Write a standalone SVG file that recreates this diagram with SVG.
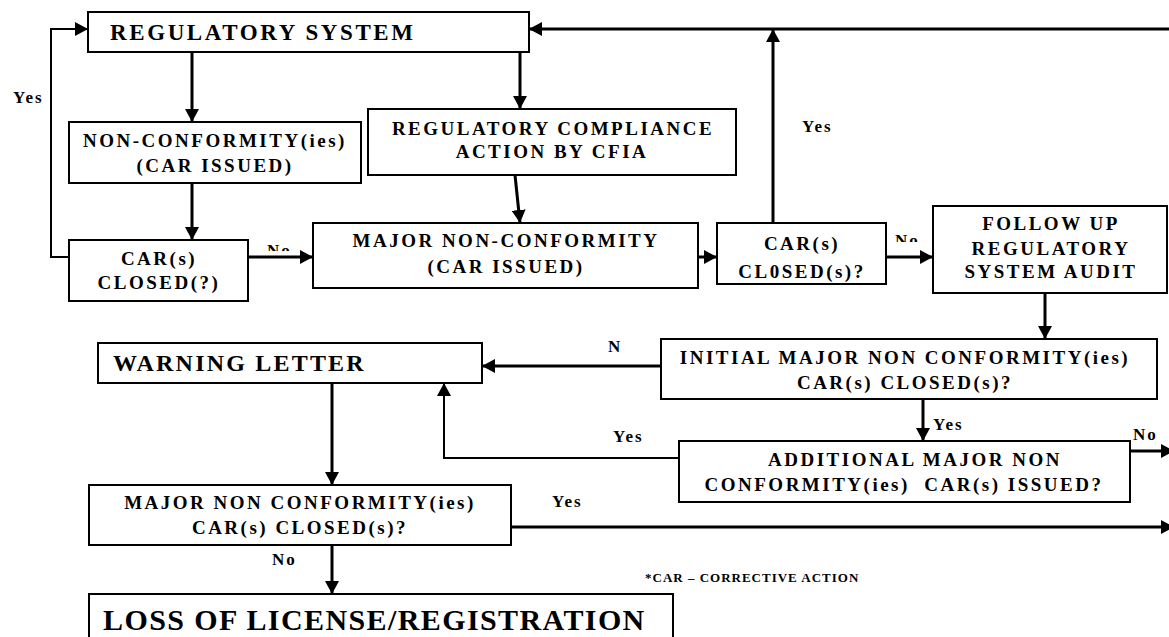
<svg xmlns="http://www.w3.org/2000/svg" width="1169" height="637" viewBox="0 0 1169 637">
<style>
  .box { fill: #fff; stroke: #000; stroke-width: 2; }
  .t { font-family: "Liberation Serif", "Times New Roman", serif; font-weight: bold; fill: #000; }
  .bt { font-size: 19px; letter-spacing: 2.5px; text-anchor: middle; }
  .lbl { font-size: 17px; letter-spacing: 2px; }
  .c { fill: none; stroke: #000; stroke-width: 3; marker-end: url(#ah); }
  .cn { fill: none; stroke: #000; stroke-width: 3; }
  .thin { stroke-width: 2; }
</style>
<defs>
  <marker id="ah" markerUnits="userSpaceOnUse" markerWidth="14" markerHeight="14" refX="13" refY="7" orient="auto">
    <path d="M0,0 L13,7 L0,14 z" fill="#000"/>
  </marker>
  <clipPath id="clipNo1"><rect x="260" y="230" width="40" height="21"/></clipPath>
  <clipPath id="clipNo2"><rect x="890" y="220" width="40" height="22"/></clipPath>
</defs>
<rect width="1169" height="637" fill="#fff"/>

<g id="connectors">
  <path class="c" d="M192,52 V122"/>
  <path class="c" d="M520,52 V109"/>
  <path class="c" d="M192,183 V240"/>
  <path class="c thin" d="M69,257 H51 V29 H88"/>
  <path class="c" d="M248,257 H313"/>
  <path class="c" d="M515,175 L520,223"/>
  <path class="c" d="M698,257 H717"/>
  <path class="c" d="M773,223 V29"/>
  <path class="c" d="M1169,29 H529"/>
  <path class="c" d="M886,257 H933"/>
  <path class="c" d="M1045,293 V339"/>
  <path class="c" d="M661,366 H482"/>
  <path class="c" d="M923,399 V441"/>
  <path class="c" d="M1130,451 H1174"/>
  <path class="c thin" d="M679,458 H444 V383"/>
  <path class="c" d="M332,383 V485"/>
  <path class="c" d="M511,527 H1174"/>
  <path class="c" d="M332,545 V594"/>
</g>

<g id="labels">
  <text class="t lbl" x="13" y="103">Yes</text>
  <text class="t lbl" x="267" y="256" clip-path="url(#clipNo1)">No</text>
  <text class="t lbl" x="802" y="132">Yes</text>
  <text class="t lbl" x="895" y="246" clip-path="url(#clipNo2)">No</text>
  <text class="t lbl" x="608" y="352">N</text>
  <text class="t lbl" x="933" y="430">Yes</text>
  <text class="t lbl" x="613" y="442">Yes</text>
  <text class="t lbl" x="1133" y="440">No</text>
  <text class="t lbl" x="552" y="507">Yes</text>
  <text class="t lbl" x="272" y="565">No</text>
  <text class="t" x="645" y="582" font-size="13" letter-spacing="1">*CAR – CORRECTIVE ACTION</text>
</g>

<g id="regulatory-system">
  <rect class="box" x="88" y="12" width="441" height="40"/>
  <text class="t" x="110" y="40" font-size="23" letter-spacing="2.6">REGULATORY SYSTEM</text>
</g>
<g id="non-conformity">
  <rect class="box" x="69" y="122" width="292" height="61"/>
  <text class="t bt" x="215" y="147">NON-CONFORMITY(ies)</text>
  <text class="t bt" x="215" y="172">(CAR ISSUED)</text>
</g>
<g id="compliance-action">
  <rect class="box" x="368" y="109" width="368" height="66"/>
  <text class="t bt" x="553" y="135">REGULATORY COMPLIANCE</text>
  <text class="t bt" x="552" y="158">ACTION BY CFIA</text>
</g>
<g id="car-closed-1">
  <rect class="box" x="69" y="240" width="179" height="61"/>
  <text class="t bt" x="159" y="265">CAR(s)</text>
  <text class="t bt" x="159" y="289">CLOSED(?)</text>
</g>
<g id="major-non-conformity">
  <rect class="box" x="313" y="223" width="385" height="65"/>
  <text class="t bt" x="506" y="247">MAJOR NON-CONFORMITY</text>
  <text class="t bt" x="506" y="273">(CAR ISSUED)</text>
</g>
<g id="car-closed-2">
  <rect class="box" x="717" y="223" width="169" height="61"/>
  <text class="t bt" x="802" y="250">CAR(s)</text>
  <text class="t bt" x="802" y="278">CL0SED(s)?</text>
</g>
<g id="follow-up-audit">
  <rect class="box" x="933" y="206" width="234" height="87"/>
  <text class="t bt" x="1051" y="230">FOLLOW UP</text>
  <text class="t bt" x="1051" y="255">REGULATORY</text>
  <text class="t bt" x="1051" y="278">SYSTEM AUDIT</text>
</g>
<g id="initial-major">
  <rect class="box" x="661" y="339" width="496" height="60"/>
  <text class="t bt" x="905" y="364">INITIAL MAJOR NON CONFORMITY(ies)</text>
  <text class="t bt" x="905" y="389">CAR(s) CLOSED(s)?</text>
</g>
<g id="warning-letter">
  <rect class="box" x="98" y="343" width="384" height="40"/>
  <text class="t" x="113" y="371" font-size="24" letter-spacing="2.2">WARNING LETTER</text>
</g>
<g id="additional-major">
  <rect class="box" x="679" y="441" width="451" height="61"/>
  <text class="t bt" x="915" y="466">ADDITIONAL MAJOR NON</text>
  <text class="t bt" x="904" y="491" xml:space="preserve">CONFORMITY(ies)  CAR(s) ISSUED?</text>
</g>
<g id="major-closed">
  <rect class="box" x="89" y="485" width="422" height="60"/>
  <text class="t bt" x="300" y="509">MAJOR NON CONFORMITY(ies)</text>
  <text class="t bt" x="300" y="534">CAR(s) CLOSED(s)?</text>
</g>
<g id="loss-of-license">
  <rect class="box" x="89" y="594" width="584" height="50"/>
  <text class="t" x="103" y="630" font-size="30" letter-spacing="1.4">LOSS OF LICENSE/REGISTRATION</text>
</g>
</svg>
